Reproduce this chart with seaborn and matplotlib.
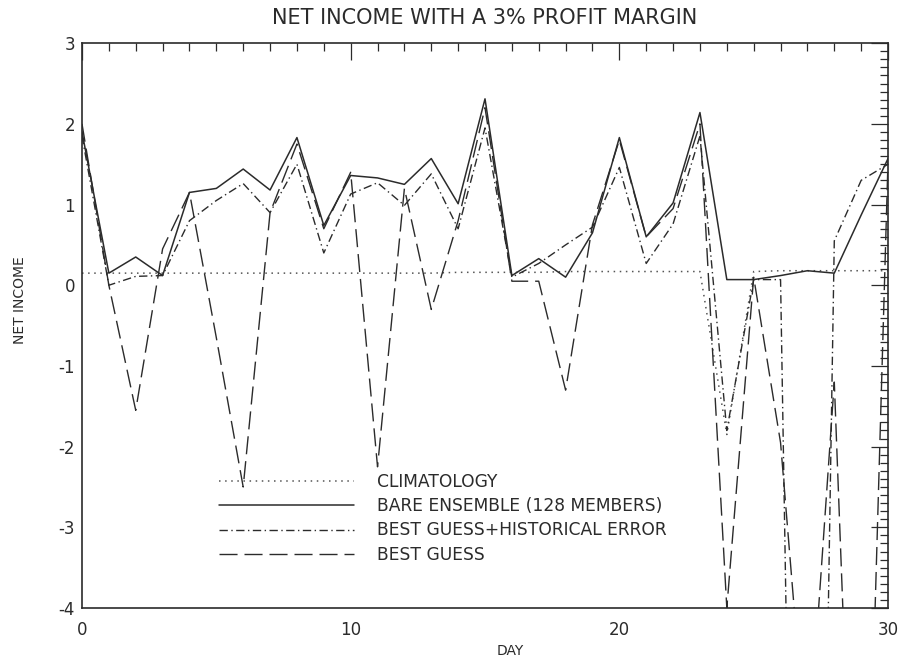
import numpy as np
import pandas as pd
import seaborn as sns
import matplotlib
matplotlib.use("Agg")
import matplotlib.pyplot as plt
from matplotlib.ticker import MultipleLocator

############################ DATA ##########################

days = list(range(31))

climatology = [0.15, 0.15, 0.15, 0.15, 0.15, 0.15, 0.15, 0.15, 0.15, 0.15,
               0.15, 0.15, 0.15, 0.15, 0.16, 0.16, 0.16, 0.16, 0.17, 0.17,
               0.17, 0.17, 0.17, 0.17, -1.85, 0.17, 0.18, 0.18, 0.18, 0.18,
               0.18]

bare_ensemble = [1.9, 0.15, 0.35, 0.12, 1.15, 1.2, 1.44, 1.18, 1.83, 0.74,
                 1.36, 1.33, 1.25, 1.57, 1.01, 2.31, 0.12, 0.33, 0.1, 0.65,
                 1.83, 0.6, 1.02, 2.14, 0.07, 0.07, 0.12, 0.18, 0.15, 0.87,
                 1.57]

guess_hist_error = [1.85, 0.0, 0.11, 0.12, 0.8, 1.05, 1.26, 0.9, 1.5, 0.4,
                    1.13, 1.27, 0.99, 1.38, 0.7, 1.95, 0.1, 0.27, 0.5, 0.72,
                    1.46, 0.27, 0.76, 1.85, -1.8, 0.07, 0.07, -20.0, 0.55, 1.3,
                    1.5]

best_guess = [2.0, 0.0, -1.55, 0.45, 1.15, -0.65, -2.5, 0.9, 1.75, 0.7,
              1.4, -2.25, 1.2, -0.3, 0.8, 2.2, 0.05, 0.05, -1.3, 0.75,
              1.8, 0.6, 0.95, 2.0, -4.0, 0.1, -1.95, -6.0, -1.2, -10.0,
              1.55]

labels = ["CLIMATOLOGY", "BARE ENSEMBLE (128 MEMBERS)",
          "BEST GUESS+HISTORICAL ERROR", "BEST GUESS"]

############################ FIGURE ###########################################

sns.set_style("white")
plt.rcParams["font.family"] = ["DejaVu Sans"]
plt.rcParams["axes.unicode_minus"] = False

ink = "#2b2b2b"

df = pd.DataFrame({"day": days,
                   "clim": climatology,
                   "bare": bare_ensemble,
                   "bghe": guess_hist_error,
                   "bg": best_guess})

fig = plt.figure(figsize=(9.01, 6.64), dpi=100)
ax = fig.add_axes([0.091, 0.0843, 0.8946, 0.8507])

styles = [("clim", (0, (1, 3)), 1.1, "#555555"),
          ("bare", "-", 1.1, ink),
          ("bghe", (0, (6, 2.5, 1, 2.5)), 1.0, ink),
          ("bg", (0, (13, 5)), 1.0, ink)]

for (col, ls, lw, c), lab in zip(styles, labels):
    sns.lineplot(data=df, x="day", y=col, ax=ax, color=c, linestyle=ls,
                 linewidth=lw, label=lab, errorbar=None)

ax.set_xlim(0, 30)
ax.set_ylim(-4, 3)

ax.xaxis.set_major_locator(MultipleLocator(10))
ax.xaxis.set_minor_locator(MultipleLocator(1))
ax.yaxis.set_major_locator(MultipleLocator(1))
ax.yaxis.set_minor_locator(MultipleLocator(0.1))

ax.tick_params(which="both", direction="in", top=True, right=True,
               color=ink, width=0.9)
ax.tick_params(which="major", length=12, labelsize=12, labelcolor=ink)
ax.tick_params(which="minor", length=6)
ax.tick_params(axis="x", which="major", pad=9)
ax.tick_params(axis="y", which="major", pad=5)

for sp in ax.spines.values():
    sp.set_color(ink)
    sp.set_linewidth(1.2)

ax.set_title("NET INCOME WITH A 3% PROFIT MARGIN", fontsize=15,
             color=ink, pad=14)
ax.set_xlabel("DAY", fontsize=10, color=ink)
ax.set_ylabel("NET INCOME", fontsize=10, color=ink)
ax.xaxis.set_label_coords(0.531, -0.063)
ax.yaxis.set_label_coords(-0.068, 0.545)

leg = ax.legend(loc="upper left", bbox_to_anchor=(0.162, 0.252), frameon=False,
                fontsize=12.3, handlelength=7.9, handletextpad=1.3,
                labelspacing=0.38, borderaxespad=0)
for t in leg.get_texts():
    t.set_color(ink)

plt.savefig("out.png", dpi=100)
